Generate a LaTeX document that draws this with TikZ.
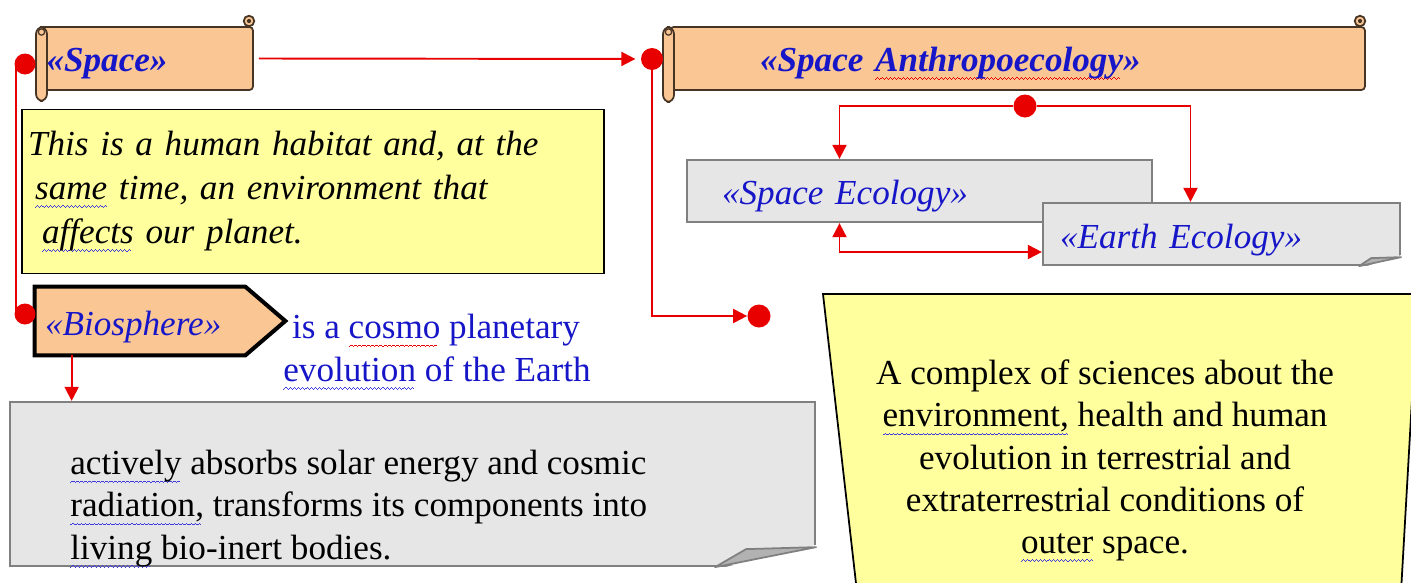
\documentclass[tikz,border=0pt]{standalone}
\usepackage{fontspec}
\setmainfont{Liberation Serif}
\usetikzlibrary{arrows.meta,calc,backgrounds}

\definecolor{peach}{RGB}{250,199,148}
\definecolor{scrollline}{RGB}{70,52,36}
\definecolor{paleyellow}{RGB}{255,255,158}
\definecolor{notegray}{RGB}{230,230,230}
\definecolor{noteline}{RGB}{128,128,128}
\definecolor{foldgray}{RGB}{178,178,178}
\definecolor{linkred}{RGB}{232,0,0}
\definecolor{titleblue}{RGB}{22,22,200}
\definecolor{waveblue}{RGB}{60,60,220}

\newcommand{\wavebit}{\rule[-4.8pt]{0.6pt}{0.55pt}\rule[-4.3pt]{0.6pt}{0.55pt}\rule[-3.8pt]{0.6pt}{0.55pt}\rule[-4.3pt]{0.6pt}{0.55pt}}
\newcommand{\wavy}[2]{\setbox0=\hbox{#2}\rlap{\textcolor{#1}{\leaders\hbox{\wavebit}\hskip\wd0}}\box0\relax}

\tikzset{
  txt/.style={font=\fontsize{20}{24}\selectfont},
  scroll/.style={draw=scrollline, line width=1pt, fill=peach, rounded corners=2pt,
    minimum height=1.26cm, inner ysep=0pt, text height=15pt, text depth=0pt,
    align=left, text=titleblue, font=\fontsize{20}{24}\selectfont\bfseries\itshape},
  scrollroll/.style={draw=scrollline, line width=1pt, fill=peach, rounded corners=4pt},
  habitatbox/.style={draw=black, line width=1pt, fill=paleyellow, text width=11.4cm,
    inner xsep=0.12cm, minimum height=3.28cm, align=left,
    font=\fontsize{20}{24.8}\selectfont\itshape},
  notebox/.style={draw=noteline, line width=1.3pt, fill=notegray},
  ecobox/.style={notebox, minimum height=1.24cm, inner ysep=0pt, text height=15pt,
    text depth=0pt, align=left, text=titleblue, font=\fontsize{20}{24}\selectfont\itshape},
  foldcorner/.style={draw=noteline, line width=1pt, fill=foldgray, line join=round},
  reddot/.style={circle, fill=linkred, inner sep=0pt, minimum size=0.42cm},
  redlink/.style={draw=linkred, line width=1.1pt}
}

\begin{document}
\begin{tikzpicture}[x=0.02cm, y=-0.02cm, >={Triangle[length=0.28cm,width=0.28cm]}]
\useasboundingbox (0,0) rectangle (1411,582);
\clip (0,0) rectangle (1411,582);

\node[scroll, text width=4cm, inner xsep=0.13cm] (space) at (146.5,58.5) {«Space»};
\draw[scrollroll] (36,27) rectangle (47,101);
\draw[scrollline, line width=0.7pt] (41.5,32) circle (1.8pt);
\filldraw[scrollroll] (249,21) circle (3pt);
\fill[scrollline] (249,21) circle (1.2pt);

\node[scroll, text width=10.3cm, inner xsep=1.8cm] (anthro) at (1017.5,58.5)
  {«Space \wavy{linkred}{Anthropoecology}»};
\draw[scrollroll] (663,27) rectangle (674,102);
\draw[scrollline, line width=0.7pt] (668.5,32) circle (1.8pt);
\filldraw[scrollroll] (1360,21) circle (3pt);
\fill[scrollline] (1360,21) circle (1.2pt);

\node[habitatbox] (habitat) at (313,191.5)
  {This is a human habitat and, at the\\
   \hspace*{4pt}\wavy{waveblue}{same} time, an environment that\\
   \hspace*{8pt}\wavy{waveblue}{affects} our planet.};

\node[ecobox, text width=7.9cm, inner xsep=0.7cm] (spaceeco) at (919.5,191) {«Space Ecology»};
\node[ecobox, text width=6.46cm, inner xsep=0.34cm, text height=17pt] (earth) at (1221.5,234) {«Earth Ecology»};
\fill[white] ($(earth.south east)+(-44,3)$) -- ($(earth.south east)+(3,3)$) -- ($(earth.south east)+(3,-12)$) -- cycle;
\filldraw[foldcorner] ($(earth.south east)+(-42,0)$) -- ($(earth.south east)+(-30,-8)$) -- ($(earth.south east)+(0,-9)$) -- cycle;

\node[txt, text=titleblue, font=\fontsize{20}{24}\selectfont\itshape, minimum width=4.2cm,
  minimum height=1.36cm, text height=17pt, text depth=0pt, text width=3.8cm, inner xsep=0.2cm,
  align=left] (bio) at (140,321) {«Biosphere»};
\begin{scope}[on background layer]
\draw[line width=2.3pt, fill=peach, line join=miter] (bio.north west) -- (bio.north east)
  -- ($(bio.east)+(40,0)$) -- (bio.south east) -- (bio.south west) -- cycle;
\end{scope}

\node[txt, text=titleblue, align=left, anchor=west, inner sep=0pt] (cosmo) at (283,352)
  {\hspace*{5pt}is a \wavy{linkred}{cosmo} planetary\\
   \wavy{waveblue}{evolution} of the Earth};

\node[notebox, minimum width=16.1cm, minimum height=3.28cm] (absorb) at (412.5,484) {};
\fill[white] ($(absorb.south east)+(-103,3)$) -- ($(absorb.south east)+(3,3)$) -- ($(absorb.south east)+(3,-23)$) -- cycle;
\filldraw[foldcorner] ($(absorb.south east)+(-101,0)$) -- ($(absorb.south east)+(-70,-18)$) -- ($(absorb.south east)+(0,-20)$) -- cycle;
\node[txt, align=left, anchor=west, inner sep=0pt] (absorbtext) at (70,509)
  {\wavy{waveblue}{actively} absorbs solar energy and cosmic\\
   \wavy{waveblue}{radiation,} transforms its components into\\
   \wavy{waveblue}{living} bio-inert bodies.};

\filldraw[fill=paleyellow, draw=black, line width=1pt] (823,294) -- (1418,294) -- (1401,592) -- (857,592) -- cycle;
\node[txt, align=center, inner sep=0pt] (sciences) at (1105,461)
  {A complex of sciences about the\\
   \wavy{waveblue}{environment,} health and human\\
   evolution in terrestrial and\\
   extraterrestrial conditions of\\
   \wavy{waveblue}{outer} space.};

\node[reddot] (dotSpace) at (25,64) {};
\node[reddot] (dotBio) at (25,314) {};
\node[reddot, minimum size=0.44cm] (dotAnthro) at (652,59) {};
\node[reddot, minimum size=0.46cm] (dotEco) at (1025,106) {};
\node[reddot, minimum size=0.46cm] (dotEnd) at (759,316) {};

\draw[redlink] ($(dotSpace)+(-9,0)$) -- ($(dotBio)+(-9,0)$);
\draw[redlink,->,shorten >=3pt] ($(space.east)+(5,0)$) -- (dotAnthro);
\draw[redlink,->] (dotAnthro) |- (dotEnd);
\draw[redlink,->] (dotEco) -| ($(spaceeco.north)+(-80,0)$);
\draw[redlink,->] (dotEco) -| ($(earth.north)+(-31,0)$);
\draw[redlink,<->] ($(spaceeco.south)+(-80,0)$) |- ($(earth.west)+(0,18)$);
\coordinate (bioFoot) at ($(bio.south west)+(37,0)$);
\draw[redlink,->] (bioFoot) -- (bioFoot |- absorb.north);
\end{tikzpicture}
\end{document}
